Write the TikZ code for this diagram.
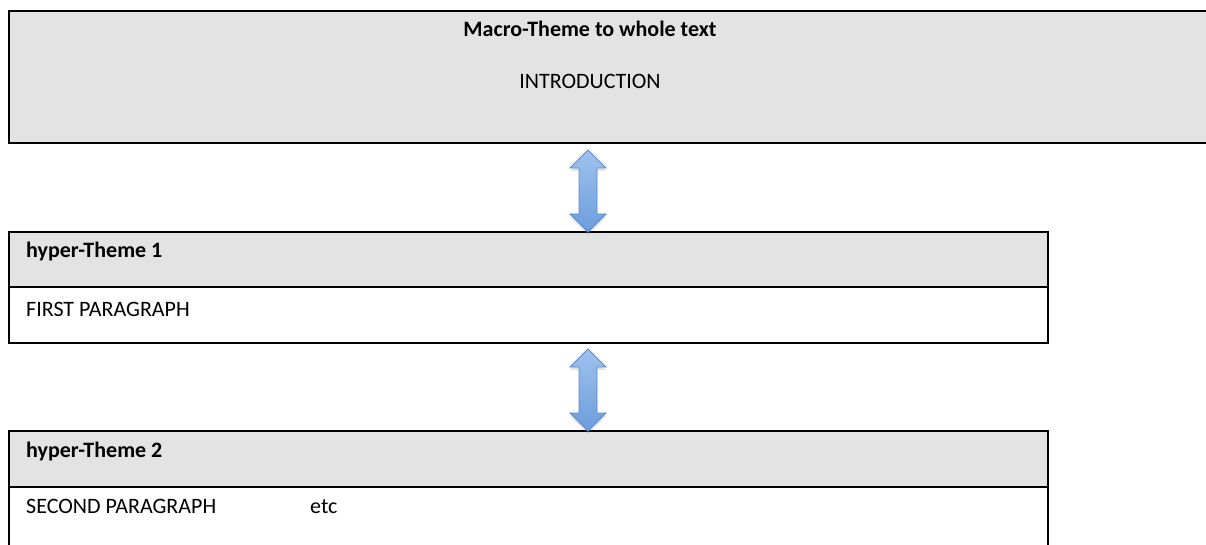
\documentclass[tikz,border=0pt]{standalone}
\usepackage{fontspec}
\setmainfont{Carlito}
\usetikzlibrary{positioning,calc,shadows}

\definecolor{boxgray}{HTML}{E3E3E3}
\definecolor{arrowlight}{HTML}{9FC2EE}
\definecolor{arrowfill}{HTML}{6C9DDC}
\definecolor{arrowedge}{HTML}{5A8ACB}

\begin{document}
\begin{tikzpicture}[x=1pt, y=-1pt,
  themebox/.style={draw, line width=2.4pt, fill=boxgray, inner sep=0pt, outer sep=0pt,
    anchor=north west, minimum width=1039pt},
  parabox/.style={themebox, fill=white},
  txt/.style={font=\fontsize{22}{26}\selectfont, inner sep=0pt, anchor=base west},
  linkarrow/.style={draw=arrowedge, line width=0.8pt, line join=miter,
    top color=arrowlight, bottom color=arrowfill,
    drop shadow={opacity=0.22, shadow xshift=0pt, shadow yshift=-3pt}}]
  \useasboundingbox (0,0) rectangle (1206,545);

  % macro-theme box, runs off the right edge
  \node[themebox, minimum width=1220pt, minimum height=132pt] (macro) at (9,11) {};
  \node[txt, anchor=base] (macrotitle) at (590,37) {\textbf{Macro-Theme to whole text}};
  \node[txt, anchor=base] (intro) at (590,89) {INTRODUCTION};

  % first paragraph
  \node[themebox, minimum height=55pt] (hyper1) at (9,232) {};
  \node[parabox, minimum height=56pt] (para1) at (hyper1.south west) {};
  \node[txt] (hypertitle1) at (26,258) {\textbf{hyper-Theme 1}};
  \node[txt] (paratext1) at (26,316) {FIRST PARAGRAPH};

  % second paragraph, runs off the bottom
  \node[themebox, minimum height=56pt] (hyper2) at (9,431) {};
  \node[parabox, minimum height=80pt] (para2) at (hyper2.south west) {};
  \node[txt] (hypertitle2) at (26,457) {\textbf{hyper-Theme 2}};
  \node[txt] (paratext2) at (26,513) {SECOND PARAGRAPH};
  \node[txt] (etc) at (310,513) {etc};

  % double arrows between the boxes
  \coordinate (up1) at (588,150);
  \coordinate (dn1) at (hyper1.north -| up1);
  \coordinate (up2) at (588,349);
  \coordinate (dn2) at (hyper2.north -| up2);
  \foreach \a/\b in {up1/dn1, up2/dn2} {
    \draw[linkarrow] (\a) -- ++(18,18) -- ++(-9,0) -- ($(\b)+(9,-18)$)
      -- ++(9,0) -- (\b) -- ++(-18,-18) -- ++(9,0)
      -- ($(\a)+(-9,18)$) -- ++(-9,0) -- cycle;
  }
\end{tikzpicture}
\end{document}
